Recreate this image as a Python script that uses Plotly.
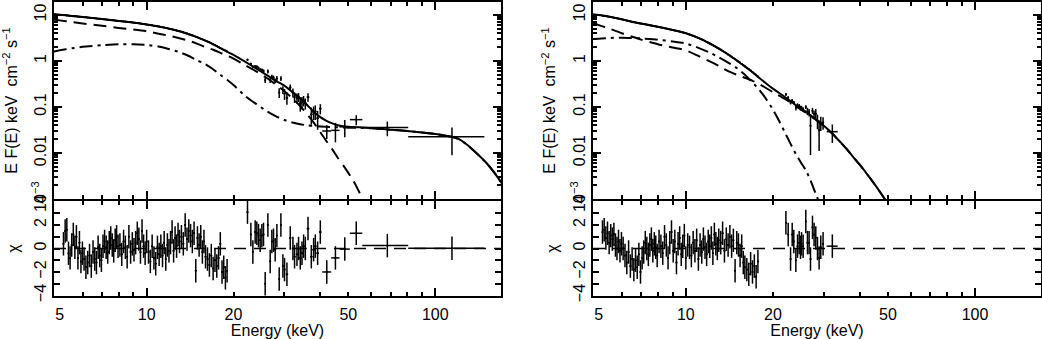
import plotly.graph_objects as go

# ---------------- left spectrum ----------------
# model curves (keV, E F(E))
left_model_E = [4.77, 5, 5.5, 6, 7, 8, 9, 10, 11, 12, 13, 14, 15, 16, 17, 18, 19, 20,
                22, 24, 26, 28, 30, 32, 34, 36, 38, 40, 42, 44, 46, 48, 50, 55, 60,
                70, 80, 90, 100, 110, 120, 130, 140, 150, 160, 170]
left_total = [10.4, 10.1, 9.5, 9.0, 8.1, 7.4, 6.8, 6.2, 5.6, 5.0, 4.4, 3.8, 3.25, 2.75, 2.3, 1.9, 1.6, 1.35,
              0.95, 0.68, 0.50, 0.37, 0.29, 0.21, 0.155, 0.11, 0.078, 0.06, 0.05, 0.044, 0.040, 0.038, 0.037, 0.036, 0.035,
              0.032, 0.030, 0.028, 0.0258, 0.0235, 0.0205, 0.0145, 0.0095, 0.0062, 0.0038, 0.0022]
left_dd = [1.6, 1.7, 1.88, 2.02, 2.2, 2.3, 2.3, 2.22, 2.05, 1.8, 1.55, 1.28, 1.02, 0.85, 0.66, 0.5, 0.39, 0.30,
           0.17, 0.115, 0.082, 0.063, 0.052, 0.046, 0.042, 0.040, 0.0385, 0.0375, 0.037, 0.0365, 0.036, 0.0358, 0.0355, 0.035, 0.0345,
           0.032, 0.030, 0.028, 0.0258, 0.0235, 0.0205, 0.0145, 0.0095, 0.0062, 0.0038, 0.0022]
left_dash_E = [4.77, 5, 5.5, 6, 7, 8, 9, 10, 11, 12, 13, 14, 15, 16, 17, 18, 19, 20,
               22, 24, 26, 28, 30, 32, 34, 36, 38, 40, 42, 44, 46, 48, 50, 52, 54, 56, 58]
left_dash = [7.9, 7.6, 7.0, 6.5, 5.8, 5.2, 4.8, 4.4, 3.9, 3.5, 3.1, 2.75, 2.35, 2.0, 1.75, 1.5, 1.3, 1.12,
             0.80, 0.59, 0.43, 0.31, 0.22, 0.155, 0.105, 0.07, 0.045, 0.028, 0.018, 0.012, 0.0078, 0.0054, 0.0037,
             0.0025, 0.0016, 0.001, 0.0006]

# data, densely binned part
left_dense_E = [5.15, 5.22, 5.29, 5.36, 5.43, 5.50, 5.57, 5.64, 5.71, 5.78, 5.85, 5.92, 5.99,
                6.07, 6.16, 6.25, 6.34, 6.43, 6.52, 6.61, 6.70, 6.79, 6.88, 6.97, 7.06, 7.15, 7.24, 7.33, 7.42,
                7.51, 7.60, 7.69, 7.78, 7.87, 7.96,
                8.08, 8.20, 8.32, 8.44, 8.56, 8.68, 8.80, 8.92, 9.04, 9.16, 9.28, 9.40, 9.52, 9.64, 9.76, 9.88, 10.00,
                10.15, 10.30, 10.45, 10.60, 10.75, 10.90, 11.05, 11.20, 11.35, 11.50, 11.65, 11.80, 11.95, 12.10,
                12.25, 12.40, 12.55, 12.70, 12.85, 13.00,
                13.2, 13.4, 13.6, 13.8, 14.0, 14.2, 14.4, 14.6, 14.8, 15.0, 15.2, 15.4, 15.6, 15.8, 16.0,
                16.25, 16.5, 16.75, 17.0, 17.25, 17.5, 17.75, 18.0, 18.25, 18.5, 18.75, 19.0]
left_dense_F = [9.92, 9.84, 9.75, 9.67, 9.58, 9.50, 9.43, 9.36, 9.29, 9.22, 9.15, 9.08, 9.01,
                8.94, 8.86, 8.78, 8.69, 8.61, 8.53, 8.45, 8.37, 8.29, 8.21, 8.13, 8.06, 8.00, 7.93, 7.87, 7.81,
                7.74, 7.68, 7.62, 7.55, 7.49, 7.43,
                7.35, 7.28, 7.21, 7.14, 7.06, 6.99, 6.92, 6.85, 6.78, 6.70, 6.63, 6.56, 6.49, 6.42, 6.34, 6.27, 6.20,
                6.11, 6.02, 5.93, 5.84, 5.75, 5.66, 5.57, 5.48, 5.39, 5.30, 5.21, 5.12, 5.03, 4.94,
                4.85, 4.76, 4.67, 4.58, 4.49, 4.40,
                4.28, 4.16, 4.04, 3.92, 3.80, 3.69, 3.58, 3.47, 3.36, 3.25, 3.15, 3.05, 2.95, 2.85, 2.75,
                2.64, 2.53, 2.41, 2.30, 2.20, 2.10, 2.00, 1.90, 1.83, 1.75, 1.68, 1.60]
left_dense_chi = [0.4, 1.5, 1.6, -0.4, -0.8, 0.3, 1.2, 0.1, 1.0, -0.8, 0.5, -1.1, -0.4,
                  -0.9, -1.6, -1.2, -0.6, -1.5, -0.3, -0.9, -1.2, 0.1, -0.6, -1.0, 0.2,
                  0.6, 0.1, -0.3, 0.5, 0.9, 0.3, -0.2, 0.7, 1.0, 0.2,
                  0.3, -0.5, 0.6, 0.1, -0.7, 1.0, -0.3, 0.4, -0.1, 0.5, 1.3, 0.8, -0.3, 1.5, 0.2, -0.4, 0.6,
                  -0.3, -1.1, 0.2, -0.8, -1.3, 0.1, -0.5, 0.2, -0.6, 0.5, -0.9, 0.3, -0.2,
                  0.5, 1.4, -0.2, 0.9, 0.2, 1.2, 0.6,
                  1.0, 0.4, 2.0, 0.8, 1.5, 1.1, 0.6, 1.3, -1.9, 0.9, 0.3, 1.0, -0.3, 0.6, -0.7,
                  -0.9, -1.4, -0.6, -1.7, -1.0, -1.5, -0.8, 0.4, -2.0, -1.6, -2.5, -1.9]

# data, sparse high-energy part
left_sparse_E = [22.36, 22.97, 23.34, 23.77, 24.09, 24.41, 24.74, 25.08, 25.41, 25.75,
                 26.31, 26.80, 27.16, 27.52, 27.89, 28.27, 28.80, 29.19, 29.66, 30.05,
                 30.63, 31.45, 32.13, 32.55, 33.18, 33.61,
                 34.07, 34.54, 34.99, 35.47, 36.24, 37.21, 37.90, 38.41, 39.13, 39.98,
                 42.1, 45.1, 48.6, 53.25, 68.25, 114.3]
left_sparse_dE = [0.15, 0.15, 0.15, 0.15, 0.15, 0.15, 0.15, 0.15, 0.15, 0.15,
                  0.2, 0.2, 0.2, 0.2, 0.2, 0.2, 0.2, 0.2, 0.2, 0.2,
                  0.3, 0.3, 0.3, 0.3, 0.3, 0.3,
                  0.4, 0.4, 0.4, 0.4, 0.4, 0.4, 0.4, 0.4, 0.4, 0.4,
                  1.5, 1.5, 2.0, 2.65, 12.35, 33.7]
left_sparse_F = [1.062, 0.865, 0.745, 0.766, 0.749, 0.701, 0.646, 0.633, 0.606, 0.379,
                 0.591, 0.385, 0.450, 0.432, 0.372, 0.417, 0.206, 0.416, 0.235, 0.194,
                 0.159, 0.266, 0.206, 0.164, 0.157, 0.164,
                 0.120, 0.126, 0.138, 0.120, 0.164, 0.069, 0.077, 0.080, 0.057, 0.092,
                 0.030, 0.031, 0.037, 0.053, 0.0356, 0.0224]
left_sparse_dF = [0.054, 0.048, 0.046, 0.042, 0.060, 0.057, 0.055, 0.052, 0.049, 0.047,
                  0.057, 0.053, 0.050, 0.048, 0.045, 0.054, 0.050, 0.048, 0.045, 0.052,
                  0.047, 0.041, 0.045, 0.042, 0.039, 0.036,
                  0.041, 0.038, 0.035, 0.032, 0.034, 0.028, 0.025, 0.028, 0.025, 0.023,
                  0.010, 0.014, 0.015, 0.013, 0.0125, 0.0135]
left_sparse_chi = [3.1, 1.2, -0.3, 1.4, 1.3, 1.1, 0.7, 1.1, 1.2, -3.0,
                   2.0, -1.1, 0.6, 0.7, -0.1, 1.1, -2.6, 2.0, -1.5, -1.8,
                   -2.2, 0.9, 0.0, -0.7, -0.5, 0.0,
                   -0.8, -0.4, 0.2, 0.0, 1.7, -0.7, -0.1, 0.2, -0.4, 1.4,
                   -2.0, -0.8, -0.05, 1.3, 0.25, 0.03]

# ---------------- right spectrum ----------------
right_model_E = [4.77, 5, 5.5, 6, 6.5, 7, 8, 9, 10, 11, 12, 13, 14, 15, 16, 17, 18, 19, 20,
                 22, 24, 26, 28, 30, 32, 34, 36, 38, 40, 42, 44, 46, 48, 50, 52]
right_total = [10.3, 9.9, 9.0, 8.0, 7.1, 6.5, 5.5, 4.7, 4.0, 3.2, 2.45, 1.85, 1.38, 1.02, 0.76, 0.57, 0.42, 0.32, 0.25,
               0.165, 0.11, 0.078, 0.055, 0.039, 0.027, 0.018, 0.0122, 0.008, 0.0055, 0.0037, 0.0025, 0.0017,
               0.00115, 0.0008, 0.00055]
right_dash = [6.8, 6.0, 4.9, 4.0, 3.4, 2.9, 2.3, 1.95, 1.7, 1.3, 1.0, 0.78, 0.6, 0.5, 0.43, 0.37, 0.31, 0.255, 0.21,
              0.15, 0.104, 0.075, 0.054, 0.0385, 0.0268, 0.0179, 0.0121, 0.008, 0.0055, 0.0037, 0.0025, 0.0017,
              0.00115, 0.0008, 0.00055]
right_dd_E = [4.77, 5, 5.5, 6, 6.5, 7, 8, 9, 10, 11, 12, 13, 14, 15, 16, 17, 18, 19, 20,
              21, 22, 23, 24, 25, 26, 27, 28, 29]
right_dd = [3.0, 3.05, 3.15, 3.2, 3.15, 3.08, 2.9, 2.65, 2.4, 1.95, 1.55, 1.2, 0.92, 0.70, 0.50, 0.34, 0.23, 0.145, 0.088,
            0.05, 0.028, 0.016, 0.0095, 0.0062, 0.0042, 0.0025, 0.0014, 0.0008]

right_dense_E = [5.15, 5.22, 5.29, 5.36, 5.43, 5.50, 5.57, 5.64, 5.71, 5.78, 5.85, 5.92, 5.99,
                 6.07, 6.16, 6.25, 6.34, 6.43, 6.52, 6.61, 6.70, 6.79, 6.88, 6.97, 7.06, 7.15, 7.24, 7.33, 7.42,
                 7.51, 7.60, 7.69, 7.78, 7.87, 7.96,
                 8.08, 8.20, 8.32, 8.44, 8.56, 8.68, 8.80, 8.92, 9.04, 9.16, 9.28, 9.40, 9.52, 9.64, 9.76, 9.88, 10.00,
                 10.15, 10.30, 10.45, 10.60, 10.75, 10.90, 11.05, 11.20, 11.35, 11.50, 11.65, 11.80, 11.95, 12.10,
                 12.25, 12.40, 12.55, 12.70, 12.85, 13.00,
                 13.2, 13.4, 13.6, 13.8, 14.0, 14.2, 14.4, 14.6, 14.8, 15.0, 15.2, 15.4, 15.6, 15.8, 16.0,
                 16.25, 16.5, 16.75, 17.0, 17.25, 17.5, 17.75]
right_dense_F = [9.63, 9.50, 9.38, 9.25, 9.13, 9.00, 8.86, 8.72, 8.58, 8.44, 8.30, 8.16, 8.02,
                 7.87, 7.71, 7.55, 7.39, 7.23, 7.08, 6.97, 6.86, 6.75, 6.64, 6.54, 6.44, 6.35, 6.26, 6.17, 6.08,
                 5.99, 5.90, 5.81, 5.72, 5.63, 5.54,
                 5.44, 5.34, 5.24, 5.15, 5.05, 4.96, 4.86, 4.76, 4.67, 4.59, 4.50, 4.42, 4.34, 4.25, 4.17, 4.08, 4.00,
                 3.88, 3.76, 3.64, 3.52, 3.40, 3.28, 3.16, 3.05, 2.94, 2.83, 2.71, 2.60, 2.49, 2.39,
                 2.30, 2.21, 2.12, 2.03, 1.94, 1.85,
                 1.76, 1.66, 1.57, 1.47, 1.38, 1.31, 1.24, 1.16, 1.09, 1.02, 0.97, 0.92, 0.86, 0.81, 0.76,
                 0.71, 0.66, 0.62, 0.57, 0.53, 0.50, 0.46]
right_dense_chi = [1.4, 1.6, 0.9, 1.3, 0.5, 1.1, 0.8, 1.2, 0.3, 0.0, 0.6, -0.2, 0.4,
                   0.0, -0.6, -1.2, -0.3, -1.5, -0.9, -1.8, -1.0, -1.6, -0.5, -2.0,
                   -0.8, -0.3, 0.5, 0.0, -0.5, 0.3, 0.8, -0.2, 0.4, 0.1, -0.6,
                   0.6, 0.2, -0.4, 1.0, 0.3, -0.8, 0.5, 1.4, -0.2, 0.6, -1.2, 0.4, 0.9, -0.5, 0.2, 1.1, -0.8,
                   0.3, 0.1, -0.6, 0.5, -0.2, 0.7, -0.9, 0.3, -0.3, 0.8, 0.1, -0.5, 0.6,
                   0.2, 0.9, -0.4, 1.2, 0.4, 0.0, 0.7,
                   0.5, 1.3, -0.2, 0.8, 0.3, 1.0, 0.2, 0.7, -1.9, 0.5, 0.3, -0.6, 0.2, -1.2, -1.6,
                   -1.8, -2.2, -1.3, -2.0, -1.5, -2.4, -1.1]

right_sparse_E = [22.18, 22.59, 23.02, 23.32, 23.62, 24.01, 24.33, 24.65, 24.92, 25.12, 25.44, 25.99,
                  26.34, 26.68, 26.98, 27.41, 27.76, 28.14, 28.52, 28.89, 29.28, 29.82, 32.1]
right_sparse_dE = [0.15, 0.15, 0.15, 0.15, 0.15, 0.15, 0.15, 0.15, 0.15, 0.15, 0.15, 0.15,
                   0.18, 0.18, 0.18, 0.18, 0.18, 0.18, 0.18, 0.18, 0.18, 0.18, 1.4]
right_sparse_F = [0.187, 0.160, 0.124, 0.138, 0.125, 0.097, 0.107, 0.104, 0.095, 0.095, 0.088, 0.100,
                  0.081, 0.076, 0.039, 0.083, 0.071, 0.071, 0.0503, 0.031, 0.0456, 0.046, 0.029]
right_sparse_dF = [0.0127, 0.0117, 0.0107, 0.0101, 0.0095, 0.0132, 0.0125, 0.0118, 0.0113, 0.0109, 0.0103, 0.0094,
                   0.0147, 0.0139, 0.030, 0.0122, 0.0115, 0.0188, 0.0176, 0.020, 0.0154, 0.0141, 0.0125]
right_sparse_chi = [2.2, 1.2, -0.9, 1.2, 0.6, -1.0, 0.2, 0.5, 0.1, 0.4, 0.2, 2.3,
                    0.5, 0.5, -0.9, 1.8, 1.2, 0.9, 0.0, -0.8, 0.1, 0.4, 0.2]

x_labels = [5, 10, 20, 50, 100]
y_labels = [0.001, 0.01, 0.1, 1, 10]
y_label_text = ["10<sup>−3</sup>", "0.01", "0.1", "1", "10"]

FONT = "Liberation Sans, Arial, Helvetica, sans-serif"
INK = "black"
X_RANGE = [0.679, 2.228]

fig = go.Figure()


def add_spectrum(xt, yt, xb, yb, xlab, mE, total, dashE, dash, ddE, dd,
                 dE, dF, dchi, sE, sdE, sF, sdF, schi):
    bar = dict(color=INK, thickness=1.5, width=0)
    # spectrum data
    fig.add_trace(go.Scatter(x=dE, y=dF, mode="markers", xaxis=xt, yaxis=yt,
                             marker=dict(size=2, color=INK),
                             error_x=dict(type="percent", value=0.7, **bar),
                             error_y=dict(type="percent", value=2, **bar)))
    fig.add_trace(go.Scatter(x=sE, y=sF, mode="markers", xaxis=xt, yaxis=yt,
                             marker=dict(size=2, color=INK),
                             error_x=dict(type="data", array=sdE, **bar),
                             error_y=dict(type="data", array=sdF, **bar)))
    # model components
    fig.add_trace(go.Scatter(x=mE, y=total, mode="lines", xaxis=xt, yaxis=yt,
                             line=dict(color=INK, width=2, shape="spline", smoothing=0.6)))
    fig.add_trace(go.Scatter(x=dashE, y=dash, mode="lines", xaxis=xt, yaxis=yt,
                             line=dict(color=INK, width=2, dash="13px,7px", shape="spline", smoothing=0.6)))
    fig.add_trace(go.Scatter(x=ddE, y=dd, mode="lines", xaxis=xt, yaxis=yt,
                             line=dict(color=INK, width=2, dash="13px,5px,3px,5px", shape="spline", smoothing=0.6)))
    # residuals (sparse ones sit on the labelled overlay axis, same scale)
    fig.add_trace(go.Scatter(x=dE, y=dchi, mode="markers", xaxis=xb, yaxis=yb,
                             marker=dict(size=2, color=INK),
                             error_x=dict(type="percent", value=0.7, **bar),
                             error_y=dict(type="constant", value=1, **bar)))
    fig.add_trace(go.Scatter(x=sE, y=schi, mode="markers", xaxis=xlab, yaxis=yb,
                             marker=dict(size=2, color=INK),
                             error_x=dict(type="data", array=sdE, **bar),
                             error_y=dict(type="constant", value=1, **bar)))
    fig.add_shape(type="line", xref=xb + " domain", yref=yb, x0=0, x1=1, y0=0, y1=0,
                  line=dict(color=INK, width=1.5, dash="12px,8px"))


add_spectrum("x", "y", "x2", "y2", "x5", left_model_E, left_total, left_dash_E, left_dash,
             left_model_E, left_dd, left_dense_E, left_dense_F, left_dense_chi,
             left_sparse_E, left_sparse_dE, left_sparse_F, left_sparse_dF, left_sparse_chi)
add_spectrum("x3", "y3", "x4", "y4", "x6", right_model_E, right_total, right_model_E, right_dash,
             right_dd_E, right_dd, right_dense_E, right_dense_F, right_dense_chi,
             right_sparse_E, right_sparse_dE, right_sparse_F, right_sparse_dF, right_sparse_chi)

tick_font = dict(family=FONT, size=16, color=INK)
minor_x = [6, 7, 8, 9, 20, 30, 40, 50, 60, 70, 80, 90, 200]
minor_y = [m * 10 ** k for k in range(-3, 2) for m in range(2, 10)]
frame = dict(showline=True, linecolor=INK, linewidth=2, mirror="allticks", ticks="inside",
             tickcolor=INK, tickwidth=1.5, showgrid=False, zeroline=False, automargin=False)


def x_axis(domain, anchor):
    return dict(type="log", range=X_RANGE, domain=domain, anchor=anchor,
                tickvals=[10, 100], ticklen=8, showticklabels=False,
                minor=dict(tickmode="array", tickvals=minor_x, ticks="inside", ticklen=4,
                           tickwidth=1.5, tickcolor=INK),
                **frame)


def label_axis(over, anchor):
    return dict(type="log", range=X_RANGE, overlaying=over, anchor=anchor, side="bottom",
                tickvals=x_labels, ticktext=[str(v) for v in x_labels], ticks="",
                ticklabelstandoff=7,
                showline=False, showgrid=False, zeroline=False, tickfont=tick_font,
                automargin=False,
                title=dict(text="Energy (keV)", font=tick_font, standoff=0))


def y_top(domain, anchor):
    return dict(type="log", range=[-3, 1.28], domain=domain, anchor=anchor,
                tickvals=y_labels, ticktext=y_label_text, ticklen=8, tickangle=-90,
                tickfont=tick_font,
                minor=dict(tickmode="array", tickvals=minor_y, ticks="inside", ticklen=4,
                           tickwidth=1.5, tickcolor=INK),
                title=dict(text="E F(E) keV  cm<sup>−2</sup> s<sup>−1</sup>", font=tick_font, standoff=8),
                **frame)


def y_res(domain, anchor):
    return dict(range=[-4.05, 4.05], domain=domain, anchor=anchor,
                tickvals=[-4, -2, 0, 2, 4], ticklen=6, tickangle=-90, tickfont=tick_font,
                minor=dict(tickmode="array", tickvals=[-3, -1, 1, 3], ticks="inside", ticklen=4,
                           tickwidth=1.5, tickcolor=INK),
                title=dict(text="χ", font=tick_font, standoff=8),
                **frame)


# plot area is 987 x 294 px (margins below); the 2 px gap lets the shared frame lines coincide
left_dom = [0.0, 0.4529]
right_dom = [0.5461, 1.0]
top_dom = [0.3299, 1.0]
bot_dom = [0.0, 0.3231]

fig.update_layout(
    width=1042, height=339,
    margin=dict(l=54, r=1, t=2, b=43),
    paper_bgcolor="white", plot_bgcolor="white",
    showlegend=False,
    font=dict(family=FONT, size=16, color=INK),
    xaxis=x_axis(left_dom, "y"),
    yaxis=y_top(top_dom, "x"),
    xaxis2=x_axis(left_dom, "y2"),
    yaxis2=y_res(bot_dom, "x2"),
    xaxis3=x_axis(right_dom, "y3"),
    yaxis3=y_top(top_dom, "x3"),
    xaxis4=x_axis(right_dom, "y4"),
    yaxis4=y_res(bot_dom, "x4"),
    xaxis5=label_axis("x2", "y2"),
    xaxis6=label_axis("x4", "y4"),
)

# drop the browser's default 8px page margin so the figure sits at the window corner
fig.write_html("out.html", config={"displayModeBar": False},
               post_script="document.body.style.margin='0';")
